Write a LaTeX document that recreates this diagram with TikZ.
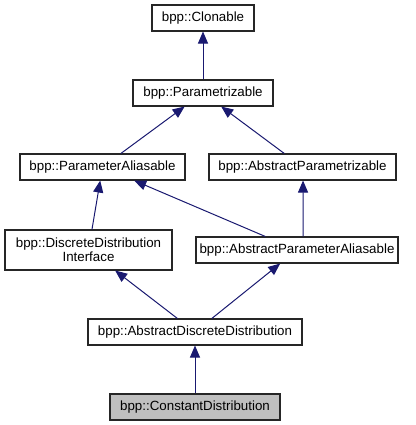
\documentclass[tikz,border=0pt]{standalone}
\usepackage{fontspec}
\setmainfont{Liberation Sans}
\usetikzlibrary{arrows.meta}
\definecolor{edgeblue}{HTML}{191970}
\definecolor{nodegrey}{HTML}{BFBFBF}

\begin{document}
\begin{tikzpicture}[
    x=0.75pt, y=-0.75pt,
    font=\fontsize{10}{10.5}\selectfont,
    cls/.style={draw=black!85, fill=white, line width=0.8pt, inner sep=0pt,
      minimum height=19.5pt, align=center},
    current/.style={cls, fill=nodegrey},
    inherit/.style={draw=edgeblue, line width=0.75pt,
      -{Triangle[length=9pt,width=7.5pt]}}
  ]
    \useasboundingbox (0,0) rectangle (415,425);

    \node[cls, minimum width=76.5pt] (clonable) at (203,18) {bpp::Clonable};
    \node[cls, minimum width=105pt] (parametrizable) at (203,93) {bpp::Parametrizable};
    \node[cls, minimum width=123.75pt] (aliasable) at (102.5,167) {bpp::ParameterAliasable};
    \node[cls, minimum width=140.25pt] (absparam) at (302.5,167) {bpp::AbstractParametrizable};
    \node[cls, minimum width=125.25pt, minimum height=30pt] (ddinterface) at (88.5,250) {bpp::DiscreteDistribution\\Interface};
    \node[cls, minimum width=151.5pt] (absaliasable) at (297,250) {bpp::AbstractParameterAliasable};
    \node[cls, minimum width=160.5pt] (absdiscrete) at (195,332) {bpp::AbstractDiscreteDistribution};
    \node[current, minimum width=127.5pt] (constant) at (195,407) {bpp::ConstantDistribution};

    \draw[inherit] (parametrizable) -- (clonable);
    \draw[inherit] (aliasable) -- (parametrizable);
    \draw[inherit] (absparam) -- (parametrizable);
    \draw[inherit] (ddinterface) -- (aliasable);
    \draw[inherit] (absaliasable) -- (aliasable);
    \draw[inherit] ([xshift=4.5pt]absaliasable.north) -- ([xshift=0.4pt]absparam.south);
    \draw[inherit] (absdiscrete) -- (ddinterface);
    \draw[inherit] (absdiscrete) -- (absaliasable);
    \draw[inherit] (constant) -- (absdiscrete);
  \end{tikzpicture}
\end{document}
